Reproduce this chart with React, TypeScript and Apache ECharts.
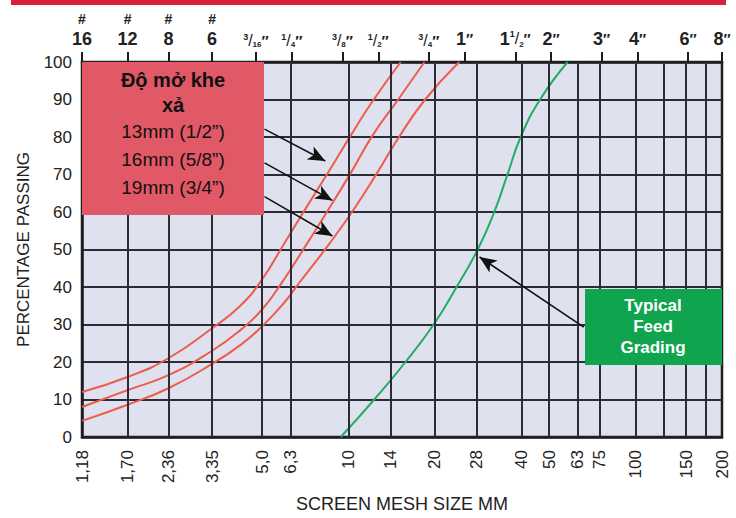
import React, { useEffect, useRef } from 'react';
import * as echarts from 'echarts';

const X_MIN = 1.18;
const X_MAX = 200;

// vertical grid lines (mm)
const gridLineValues = [1.7, 2.36, 3.35, 5.0, 6.3, 10, 14, 20, 28, 40, 50, 63, 75, 100, 125, 150, 175];
// bottom tick labels (mm)
const bottomTickValues = [1.18, 1.7, 2.36, 3.35, 5.0, 6.3, 10, 14, 20, 28, 40, 50, 63, 75, 100, 150, 200];
const bottomTickLabels = ['1,18', '1,70', '2,36', '3,35', '5,0', '6,3', '10', '14', '20', '28', '40', '50', '63', '75', '100', '150', '200'];
// top tick labels (mesh / inches), placed at their mm size (8" clamped to the axis end)
const topTickValues = [1.18, 1.7, 2.36, 3.35, 4.76, 6.35, 9.53, 12.7, 19.05, 25.4, 38.1, 50.8, 76.2, 101.6, 152.4, 200];
const topTickLabels = ['#16', '#12', '#8', '#6', '3/16"', '1/4"', '3/8"', '1/2"', '3/4"', '1"', '1 1/2"', '2"', '3"', '4"', '6"', '8"'];

// curves: [mm, % passing]
const curve13mm = [[1.18, 12], [1.7, 16], [2.36, 21], [3.35, 29], [4.2, 35], [5.0, 42], [5.91, 51], [7.17, 61.5], [8.57, 71], [10.2, 80.5], [12.0, 89], [15.2, 100]];
const curve16mm = [[1.18, 8], [1.7, 12.5], [2.36, 16.5], [3.35, 23], [4.2, 28.5], [5.0, 34], [5.9, 41.5], [6.83, 49], [8.57, 61], [10.2, 70.5], [12.15, 80.5], [14.9, 90], [18.4, 100]];
const curve19mm = [[1.18, 4.3], [1.7, 8.6], [2.36, 13], [3.35, 19.5], [4.2, 24.5], [5.0, 29.5], [6.0, 36], [6.72, 41], [8.57, 51.5], [10.5, 61], [12.6, 70.5], [15.0, 80], [18.5, 90], [24.3, 100]];
const feedCurve = [[9.4, 0], [12.3, 10], [15.8, 20], [19.8, 30], [23.8, 40], [28.2, 50], [32.2, 60], [35.8, 70], [39.8, 80], [46.5, 90], [58, 100]];

const legendLines = ['Độ mở khe', 'xả', '13mm (1/2”)', '16mm (5/8”)', '19mm (3/4”)'];
const feedLabelLines = ['Typical', 'Feed', 'Grading'];

// arrows in data coordinates: [start, tip]
const redArrows = [
  [[5.1, 82.1], [8.3, 73.6]],
  [[5.1, 73.1], [8.79, 63.1]],
  [[5.1, 64.1], [8.79, 53.6]],
];
const greenArrow = [[66, 29.3], [28.6, 48.0]];

const FONT = '"Liberation Sans", Arial, sans-serif';
const GRID_COLOR = '#2c2c36';

function topLabel(s: string): string {
  if (s.startsWith('#')) return `{h|#}\n{n|${s.slice(1)}}`;
  const body = s.replace('"', '');
  if (body.includes('/')) {
    const parts = body.split(' ');
    const frac = parts[parts.length - 1];
    const whole = parts.length > 1 ? parts[0] : '';
    const [a, b] = frac.split('/');
    return `${whole ? `{n|${whole}}` : ''}{sup|${a}}{sl|/}{sub|${b}}{q|″}`;
  }
  return `{n|${body}}{q|″}`;
}

function findIndex(values: number[], v: number) {
  let best = 0;
  let bd = Infinity;
  values.forEach((x, i) => {
    const d = Math.abs(Math.log(x) - Math.log(v));
    if (d < bd) { bd = d; best = i; }
  });
  return best;
}

export default function App() {
  const ref = useRef<HTMLDivElement>(null);
  useEffect(() => {
    if (!ref.current) return;
    const chart = echarts.init(ref.current, null, { renderer: 'svg' });
    const gridLeft = 82, gridTop = 62, gridRight = 14, gridBottom = 77;
    const redBox = { x: 82, y: 62, w: 182, h: 153 };
    const greenBox = { x: 585, y: 289, w: 137, h: 76 };
    const legendY = [80, 105, 131, 159, 187];
    const feedY = [305, 326, 347];

    const curveStyle = (color: string) => ({
      type: 'line' as const,
      smooth: 0.5,
      showSymbol: false,
      symbol: 'none',
      clip: true,
      z: 3,
      lineStyle: { color, width: 2 },
      silent: true,
    });

    const arrowLine = (a: number[][]) => [{ coord: a[0] }, { coord: a[1] }];

    chart.setOption({
      animation: false,
      backgroundColor: '#ffffff',
      textStyle: { fontFamily: FONT },
      grid: {
        left: gridLeft, top: gridTop, right: gridRight, bottom: gridBottom,
        show: true, backgroundColor: '#dfe1ee', borderColor: '#1c1c22', borderWidth: 2.5,
      },
      xAxis: [
        {
          type: 'log', logBase: 10, min: X_MIN, max: X_MAX, position: 'bottom',
          name: 'SCREEN MESH SIZE MM', nameLocation: 'middle', nameGap: 58,
          nameTextStyle: { fontSize: 18, color: '#222', fontFamily: FONT },
          axisLine: { show: true, lineStyle: { color: '#1c1c22', width: 2.5 } },
          axisTick: { show: false },
          splitLine: { show: false },
          axisLabel: {
            customValues: bottomTickValues, rotate: 90, margin: 13, fontSize: 17, color: '#222', fontFamily: FONT,
            formatter: (v: number) => bottomTickLabels[findIndex(bottomTickValues, v)],
          },
        },
        {
          type: 'log', logBase: 10, min: X_MIN, max: X_MAX, position: 'top',
          axisLine: { show: true, lineStyle: { color: '#1c1c22', width: 2.5 } },
          axisTick: { show: true, customValues: topTickValues, length: 10, lineStyle: { color: '#1c1c22', width: 2 } },
          splitLine: { show: false },
          axisLabel: {
            customValues: topTickValues, margin: 14, color: '#222', fontFamily: FONT,
            formatter: (v: number) => topLabel(topTickLabels[findIndex(topTickValues, v)]),
            rich: {
              h: { fontSize: 14, fontWeight: 'bold', color: '#222', lineHeight: 19, align: 'center', padding: [0, 0, 2, 0] },
              n: { fontSize: 18, fontWeight: 'bold', color: '#222', lineHeight: 19 },
              sup: { fontSize: 9, fontWeight: 'bold', color: '#222', verticalAlign: 'top' },
              sl: { fontSize: 16, color: '#222' },
              sub: { fontSize: 8, fontWeight: 'bold', color: '#222', verticalAlign: 'bottom' },
              q: { fontSize: 15, fontWeight: 'bold', color: '#222' },
            },
          },
        },
      ],
      yAxis: {
        type: 'value', min: 0, max: 100, interval: 10,
        name: 'PERCENTAGE PASSING', nameLocation: 'middle', nameGap: 50,
        nameTextStyle: { fontSize: 17, color: '#222', fontFamily: FONT },
        axisLine: { show: true, lineStyle: { color: '#1c1c22', width: 2.5 } },
        axisTick: { show: false },
        axisLabel: { fontSize: 17, color: '#222', margin: 10, fontFamily: FONT },
        splitLine: { show: true, lineStyle: { color: GRID_COLOR, width: 2 } },
      },
      series: [
        {
          type: 'line', xAxisIndex: 0, data: [], silent: true, z: 1,
          markLine: {
            silent: true, symbol: ['none', 'none'], animation: false,
            label: { show: false },
            lineStyle: { color: GRID_COLOR, width: 2, type: 'solid' },
            emphasis: { disabled: true },
            data: gridLineValues.map((v) => ({ xAxis: v })),
          },
        },
        { ...curveStyle('#ef5b4c'), name: '13mm', data: curve13mm },
        { ...curveStyle('#ef5b4c'), name: '16mm', data: curve16mm },
        { ...curveStyle('#ef5b4c'), name: '19mm', data: curve19mm },
        {
          ...curveStyle('#22ad66'), name: 'Typical Feed Grading', data: feedCurve,
          markLine: {
            silent: true, symbol: ['none', 'arrow'], symbolSize: [11, 17], animation: false,
            label: { show: false },
            lineStyle: { color: '#111', width: 1.6, type: 'solid' },
            itemStyle: { color: '#111' },
            emphasis: { disabled: true },
            z: 20,
            data: [...redArrows.map(arrowLine), arrowLine(greenArrow)],
          },
        },
      ],
      graphic: [
        { type: 'rect', z: 100, shape: { x: 11, y: 0, width: 715, height: 5 }, style: { fill: '#d8223b' } },
        { type: 'rect', z: 100, shape: { x: redBox.x, y: redBox.y, width: redBox.w, height: redBox.h }, style: { fill: '#e15867' } },
        ...legendLines.map((t, i) => ({
          type: 'text', z: 101, x: redBox.x + redBox.w / 2, y: legendY[i],
          style: {
            text: t, fill: '#111', fontSize: i < 2 ? 20 : 19, fontWeight: i < 2 ? 'bold' : 'normal',
            fontFamily: FONT, align: 'center', verticalAlign: 'middle',
          },
        })),
        { type: 'rect', z: 100, shape: { x: greenBox.x, y: greenBox.y, width: greenBox.w, height: greenBox.h }, style: { fill: '#10a44f' } },
        ...feedLabelLines.map((t, i) => ({
          type: 'text', z: 101, x: greenBox.x + 68, y: feedY[i],
          style: {
            text: t, fill: '#ffffff', fontSize: 17, fontWeight: 'bold',
            fontFamily: FONT, align: 'center', verticalAlign: 'middle',
          },
        })),
      ],
    });
    return () => chart.dispose();
  }, []);
  return <div ref={ref} style={{ position: 'fixed', left: 0, top: 0, width: 736, height: 518 }} />;
}
